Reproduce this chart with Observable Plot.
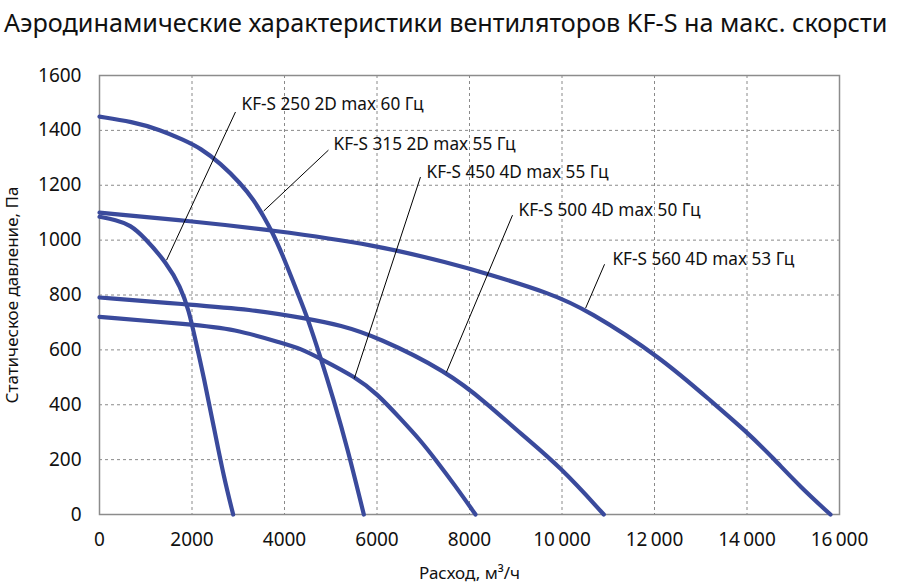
<!DOCTYPE html>
<html>
<head>
<meta charset="utf-8">
<script src="https://cdn.jsdelivr.net/npm/d3@7"></script>
<script src="https://cdn.jsdelivr.net/npm/@observablehq/plot@0.6"></script>
<style>
  body { margin: 0; background: #fff; font-family: "Noto Sans", sans-serif; }
  #title { height: 40px; line-height: 44px; font-size: 25.2px; color: #111; padding-left: 4px; white-space: nowrap; }
</style>
</head>
<body>
<div id="title">Аэродинамические характеристики вентиляторов KF-S на макс. скорсти</div>
<div id="chart"></div>
<script>
// Series names
const seriesNames = [
  "KF-S 250 2D max 60 Гц",
  "KF-S 315 2D max 55 Гц",
  "KF-S 450 4D max 55 Гц",
  "KF-S 500 4D max 50 Гц",
  "KF-S 560 4D max 53 Гц"
];
// Airflow (m³/h) and static pressure (Pa) for each fan
const q250 = [0, 350, 670, 958, 1463, 1751, 1931, 2076, 2255, 2471, 2688, 2890];
const p250 = [1085, 1074, 1055, 1012, 915, 830, 745, 635, 501, 319, 136, 0];
const q315 = [0, 700, 1320, 1820, 2184, 2616, 3049, 3337, 3553, 3733, 3949, 4346, 4490, 4778, 5066, 5355, 5715];
const p315 = [1450, 1432, 1402, 1365, 1335, 1280, 1207, 1146, 1085, 1030, 951, 781, 720, 574, 416, 246, 0];
const q450 = [0, 1968, 2904, 3985, 4346, 4778, 5535, 6004, 6508, 6941, 7265, 7661, 8130];
const p450 = [720, 693, 677, 623, 605, 568, 501, 440, 349, 270, 200, 112, 0];
const q500 = [0, 1860, 3265, 4490, 5211, 6004, 7517, 8383, 9103, 9968, 10904];
const p500 = [791, 766, 748, 714, 690, 647, 521, 404, 295, 173, 0];
const q560 = [0, 2000, 3700, 6000, 7590, 8380, 9750, 10550, 12130, 13282, 14004, 14580, 15157, 15805];
const p560 = [1100, 1069, 1037, 982, 915, 878, 806, 745, 574, 404, 300, 203, 100, 0];
// Axis ticks
const xTicks = [0, 2000, 4000, 6000, 8000, 10000, 12000, 14000, 16000];
const yTicks = [0, 200, 400, 600, 800, 1000, 1200, 1400, 1600];
// Label anchors (data coords): text position, leader line start and end
const labelX = [3070, 5060, 7070, 9060, 11090];
const labelY = [1493, 1347, 1248, 1109, 931];
const leadX1 = [2940, 4950, 6940, 8930, 10920];
const leadY1 = [1467, 1328, 1230, 1091, 912];
const leadX2 = [1450, 3550, 5510, 7500, 10510];
const leadY2 = [927, 1106, 496, 518, 752];

const qs = [q250, q315, q450, q500, q560];
const ps = [p250, p315, p450, p500, p560];
const curves = seriesNames.flatMap((name, i) => qs[i].map((q, j) => ({name, q, p: ps[i][j]})));
const labels = seriesNames.map((name, i) => ({
  name, x: labelX[i], y: labelY[i], x1: leadX1[i], y1: leadY1[i], x2: leadX2[i], y2: leadY2[i]
}));

const fmtX = d => d >= 10000 ? d3.format(",")(d).replace(/,/g, "\u2009") : String(d);
const fmtY = d => String(d);

const chart = Plot.plot({
  width: 902,
  height: 548,
  marginTop: 35,
  marginBottom: 74,
  marginLeft: 99,
  marginRight: 63,
  style: {fontFamily: "Noto Sans", fontSize: "19px", color: "#111", background: "#fff"},
  x: {domain: [0, 16000], ticks: xTicks, tickFormat: fmtX, label: null},
  y: {domain: [0, 1600], ticks: yTicks, tickFormat: fmtY, label: null},
  marks: [
    Plot.gridX(xTicks, {stroke: "#8a8a8a", strokeOpacity: 1, strokeDasharray: "3,3", strokeWidth: 1}),
    Plot.gridY(yTicks, {stroke: "#8a8a8a", strokeOpacity: 1, strokeDasharray: "3,3", strokeWidth: 1}),
    Plot.frame({stroke: "#8c8c8c", strokeWidth: 1.5}),
    Plot.axisX(xTicks, {tickSize: 0, tickPadding: 18, tickFormat: fmtX, fontSize: 19, label: null}),
    Plot.axisY(yTicks, {tickSize: 0, tickPadding: 18, tickFormat: fmtY, fontSize: 19, label: null}),
    Plot.line(curves, {x: "q", y: "p", z: "name", stroke: "#3a4a9c", strokeWidth: 4.2, curve: "basis"}),
    Plot.link(labels, {x1: "x1", y1: "y1", x2: "x2", y2: "y2", stroke: "#000", strokeWidth: 1}),
    Plot.text(labels, {x: "x", y: "y", text: "name", textAnchor: "start", fontSize: 17.2, fill: "#111"}),
    Plot.text(["Статическое давление, Па"], {frameAnchor: "left", textAnchor: "middle", dx: -87, rotate: -90, fontSize: 17, fill: "#111"}),
    Plot.text(["Расход, м³/ч"], {frameAnchor: "bottom", textAnchor: "middle", dy: 64, fontSize: 17, fill: "#111"})
  ]
});
document.getElementById("chart").appendChild(chart);
</script>
</body>
</html>
